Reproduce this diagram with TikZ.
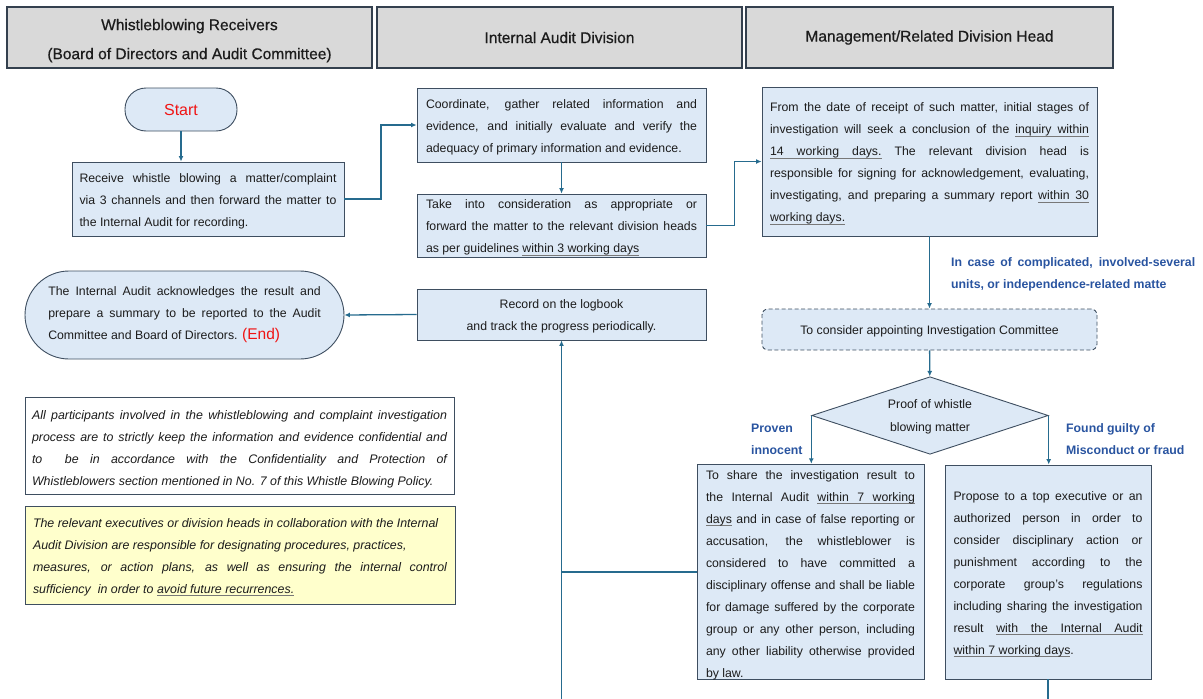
\documentclass[tikz,border=0pt]{standalone}
\usepackage{fontspec}
\setmainfont{Liberation Sans}
\newfontfamily\hdrfamily[FakeBold=0.6]{Liberation Sans}
\usetikzlibrary{arrows.meta,shapes.geometric}

\definecolor{hdrfill}{RGB}{217,217,217}
\definecolor{hdrline}{RGB}{52,64,78}
\definecolor{boxfill}{RGB}{221,233,246}
\definecolor{boxline}{RGB}{62,78,96}
\definecolor{conncol}{RGB}{38,107,142}
\definecolor{labblue}{RGB}{41,84,160}
\definecolor{notefill}{RGB}{255,255,204}
\definecolor{ulgray}{RGB}{120,120,120}
\definecolor{txt}{RGB}{28,28,28}
\definecolor{alertred}{RGB}{240,20,20}

% justified paragraphs with hand-set line ends
\tolerance=10000
\hbadness=10000
\hyphenpenalty=10000
\exhyphenpenalty=10000

\newcommand\bodyfont{\fontsize{12.3}{22}\selectfont}
\newcommand\notefont{\fontsize{12.4}{22}\selectfont\itshape}
\newcommand\hdrfont{\fontsize{15.5}{29}\selectfont\hdrfamily}
\newcommand\labfont{\fontsize{12.3}{22}\selectfont\bfseries}
\newcommand\nl{\hfil\break}
% raises the first line's top so the text block sits a little lower
\newcommand\toprule[1]{\rule{0pt}{#1}}
% grey underline: one word, and a stretchable underlined space
\newcommand\uw[1]{\setbox0\hbox{#1}\rlap{\color{ulgray}\vrule width\wd0 height -1.9pt depth 2.6pt}\box0\relax}
\newcommand\us{{\color{ulgray}\leaders\vrule height -1.9pt depth 2.6pt
  \hskip\fontdimen2\font plus\fontdimen3\font minus\fontdimen4\font}}

\begin{document}
\begin{tikzpicture}[x=1pt,y=-1pt,
  hdr/.style={draw=hdrline, fill=hdrfill, line width=1.1pt, inner sep=0pt,
    align=center, font=\hdrfont, text=txt, minimum height=61pt},
  box/.style={draw=boxline, fill=boxfill, line width=0.9pt, inner sep=0pt,
    font=\bodyfont, text=txt},
  jbox/.style={box, align=justify},
  conn/.style={draw=conncol, line width=1.3pt, -{Latex[length=5.5pt,width=5pt]}},
  connline/.style={draw=conncol, line width=1.3pt},
  branch/.style={font=\labfont, text=labblue, inner sep=0pt, anchor=west},
]
\useasboundingbox (0,0) rectangle (1203,699);

% lane headers
\node[hdr, minimum width=365pt] (hrecv) at (189.5,37.5)
  {\toprule{17.5pt}Whistleblowing Receivers\\(Board of Directors and Audit Committee)};
\node[hdr, minimum width=365pt] (haudit) at (559.5,37.5) {Internal Audit Division};
\node[hdr, minimum width=367pt] (hmgmt) at (929.5,37.5) {Management/Related Division Head};

% receivers lane
\node[box, rounded corners=21pt, minimum width=112pt, minimum height=43pt,
  font=\fontsize{16}{20}\selectfont, text=alertred] (start) at (181,109.5) {Start};
\node[jbox, minimum width=272pt, minimum height=74pt, text width=257pt] (recv) at (208,199)
  {\toprule{13pt}Receive whistle blowing a matter/complaint\linebreak
   via 3 channels and then forward the matter to\linebreak
   the Internal Audit for recording.};
\node[jbox, rounded corners=44pt, minimum width=319pt, minimum height=88pt, text width=272.5pt] (end) at (184.5,315)
  {The Internal Audit acknowledges the result and\linebreak
   prepare a summary to be reported to the Audit\linebreak
   Committee and Board of Directors. {\color{alertred}\fontsize{15.5}{22}\selectfont(End)}};

% notes
\node[jbox, fill=white, font=\notefont, minimum width=429pt, minimum height=97pt, text width=415pt] (note1) at (239.5,445.5)
  {\toprule{16pt}All participants involved in the whistleblowing and complaint investigation\linebreak
   process are to strictly keep the information and evidence confidential and\linebreak
   to\ \ be in accordance with the Confidentiality and Protection of\linebreak
   Whistleblowers section mentioned in No. 7 of this Whistle Blowing Policy.};
\node[jbox, fill=notefill, font=\notefont, minimum width=430pt, minimum height=98pt, text width=414pt] (note2) at (240,555)
  {\toprule{13pt}The relevant executives or division heads in collaboration with the Internal\nl
   Audit Division are responsible for designating procedures, practices,\nl
   measures, or action plans, as well as ensuring the internal control\linebreak
   sufficiency\ \ in order to \uw{avoid}\us\uw{future}\us\uw{recurrences.}};

% internal audit lane
\node[jbox, minimum width=289pt, minimum height=74pt, text width=271pt] (coord) at (561.5,125)
  {\toprule{13pt}Coordinate, gather related information and\linebreak
   evidence, and initially evaluate and verify the\linebreak
   adequacy of primary information and evidence.};
\node[jbox, minimum width=289pt, minimum height=63pt, text width=271pt] (take) at (561.5,225.5)
  {\toprule{13pt}Take into consideration as appropriate or\linebreak
   forward the matter to the relevant division heads\linebreak
   as per guidelines \uw{within}\us\uw{3}\us\uw{working}\us\uw{days}};
\node[box, align=center, minimum width=289pt, minimum height=51pt] (record) at (561.5,314.5)
  {\toprule{13pt}Record on the logbook\\and track the progress periodically.};

% management lane
\node[jbox, minimum width=335pt, minimum height=149pt, text width=319pt] (from) at (929.5,161.5)
  {\toprule{13pt}From the date of receipt of such matter, initial stages of\linebreak
   investigation will seek a conclusion of the \uw{inquiry}\us\uw{within}\linebreak
   \uw{14}\us\uw{working}\us\uw{days.} The relevant division head is\linebreak
   responsible for signing for acknowledgement, evaluating,\linebreak
   investigating, and preparing a summary report \uw{within}\us\uw{30}\linebreak
   \uw{working}\us\uw{days.}};
\node[box, dashed, dash pattern=on 4pt off 2.5pt, rounded corners=6pt, align=center,
  minimum width=335pt, minimum height=41pt] (committee) at (929.5,329.5)
  {\toprule{13pt}To consider appointing Investigation Committee};
\node[box, diamond, minimum width=236.5pt, minimum height=77.5pt] (proof) at (930,415.5) {};
\node[font=\fontsize{12.3}{23}\selectfont, text=txt, align=center, inner sep=0pt] (prooftext) at (proof.center)
  {\toprule{12pt}Proof of whistle\\blowing matter};
\node[jbox, minimum width=227pt, minimum height=214pt, text width=209pt] (inno) at (810.5,572)
  {\toprule{15pt}To share the investigation result to\linebreak
   the Internal Audit \uw{within}\us\uw{7}\us\uw{working}\linebreak
   \uw{days} and in case of false reporting or\linebreak
   accusation, the whistleblower is\linebreak
   considered to have committed a\linebreak
   disciplinary offense and shall be liable\linebreak
   for damage suffered by the corporate\linebreak
   group or any other person, including\linebreak
   any other liability otherwise provided\linebreak
   by law.};
\node[jbox, minimum width=206pt, minimum height=214pt, text width=189pt] (guilty) at (1048,572)
  {\toprule{13pt}Propose to a top executive or an\linebreak
   authorized person in order to\linebreak
   consider disciplinary action or\linebreak
   punishment according to the\linebreak
   corporate group's regulations\linebreak
   including sharing the investigation\linebreak
   result \uw{with}\us\uw{the}\us\uw{Internal}\us\uw{Audit}\linebreak
   \uw{within}\us\uw{7}\us\uw{working}\us\uw{days}.};

% branch labels
\node[branch, text width=244pt, align=justify] (lblcase) at (951,274)
  {In case of complicated, involved-several\linebreak units, or independence-related matte};
\node[branch, align=left] (lblinno) at (751,439) {Proven\\innocent};
\node[branch, align=left] (lblguilty) at (1066,439) {Found guilty of\\Misconduct or fraud};

% connectors
\coordinate (loopbase) at (1048,699.6);
\draw[conn] (start) -- (start |- recv.north);
\draw[conn] (recv.east) -- ++(36.5,0) |- (coord.west);
\draw[conn] (coord) -- (take);
\draw[conn] (take.east) -- ++(28,0) |- (from.west);
\draw[conn] (from) -- (committee);
\draw[conn] (committee) -- (proof);
\draw[conn] (proof.west) -- (proof.west |- inno.north);
\draw[conn] (proof.east) -- (proof.east |- guilty.north);
\draw[conn] (record.west) -- (end.east);
\draw[conn] (guilty.south) -- (guilty.south |- loopbase) -| (record.south);
\draw[connline] (inno.west) -- (inno.west -| record.south);
\end{tikzpicture}
\end{document}
